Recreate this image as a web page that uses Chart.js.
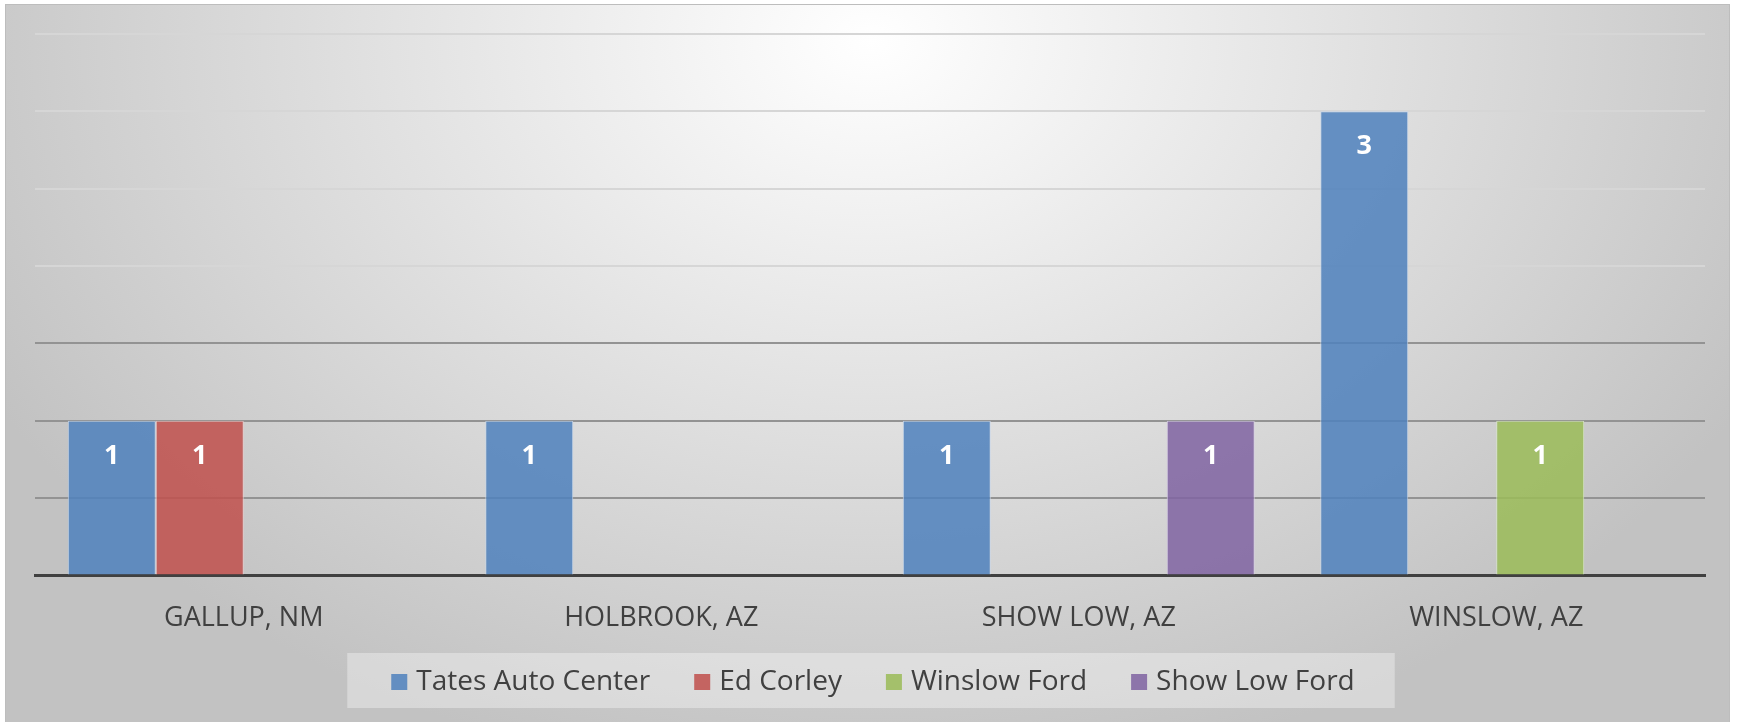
<!DOCTYPE html>
<html>
<head>
<meta charset="utf-8">
<script src="https://cdn.jsdelivr.net/npm/chart.js@4.4.1/dist/chart.umd.min.js"></script>
<style>
    html, body { margin: 0; padding: 0; background: #ffffff; }
    #wrap { width: 1739px; height: 722px; }
</style>
</head>
<body>
<div id="wrap"><canvas id="grafico"></canvas></div>
<script>
const ciudades = ['GALLUP, NM', 'HOLBROOK, AZ', 'SHOW LOW, AZ', 'WINSLOW, AZ'];
const tates = [1, 1, 1, 3];
const edCorley = [1, null, null, null];
const winslowFord = [null, null, null, 1];
const showLowFord = [null, null, 1, null];
const series = ['Tates Auto Center', 'Ed Corley', 'Winslow Ford', 'Show Low Ford'];

const FUENTE = '"Open Sans", Lato, sans-serif';

// fondo con degradado radial y marco
const fondo = {
    id: 'fondo',
    beforeDraw(chart) {
        const ctx = chart.ctx;
        ctx.save();
        ctx.fillStyle = '#ffffff';
        ctx.fillRect(0, 0, chart.width, chart.height);
        ctx.translate(870, 40);
        ctx.scale(1, 0.75);
        const g = ctx.createRadialGradient(0, 0, 0, 0, 0, 1000);
        g.addColorStop(0, '#ffffff');
        g.addColorStop(1, '#c2c2c2');
        ctx.fillStyle = g;
        ctx.fillRect(-865, -48, 1725, 1000);
        ctx.restore();
        ctx.save();
        ctx.strokeStyle = '#bdbdbd';
        ctx.lineWidth = 1;
        ctx.strokeRect(5.5, 4.5, 1724, 720);
        ctx.restore();
    }
};

// leyenda dibujada a mano (caja con fondo claro)
const leyenda = {
    id: 'leyenda',
    afterDraw(chart) {
        const ctx = chart.ctx;
        const caja = 16, hueco = 9, sep = 44, yc = 682;
        ctx.save();
        ctx.font = '28px ' + FUENTE;
        const anchos = chart.data.datasets.map(ds => ctx.measureText(ds.label).width);
        const total = anchos.reduce((a, w) => a + caja + hueco + w, 0) + sep * (anchos.length - 1);
        let x = 873 - total / 2;
        ctx.fillStyle = 'rgba(255,255,255,0.35)';
        ctx.fillRect(x - 44, 653, total + 84, 55);
        ctx.textBaseline = 'middle';
        chart.data.datasets.forEach((ds, i) => {
            ctx.fillStyle = ds.backgroundColor;
            ctx.fillRect(x, yc - caja / 2, caja, caja);
            ctx.fillStyle = '#404040';
            ctx.fillText(ds.label, x + caja + hueco, yc);
            x += caja + hueco + anchos[i] + sep;
        });
        ctx.restore();
    }
};

// etiquetas de valor dentro de las barras
const etiquetas = {
    id: 'etiquetas',
    afterDatasetsDraw(chart) {
        const ctx = chart.ctx;
        ctx.save();
        ctx.fillStyle = '#ffffff';
        ctx.font = 'bold 27px ' + FUENTE;
        ctx.textAlign = 'center';
        ctx.textBaseline = 'middle';
        chart.data.datasets.forEach((ds, i) => {
            const meta = chart.getDatasetMeta(i);
            meta.data.forEach((bar, j) => {
                const v = ds.data[j];
                if (v === null || v === undefined) return;
                ctx.fillText(String(v), bar.x, bar.y + 35);
            });
        });
        ctx.restore();
    }
};

function serie(label, data, color, borde) {
    return {
        label,
        data,
        backgroundColor: color,
        borderColor: borde,
        borderWidth: 1,
        borderSkipped: 'bottom',
        categoryPercentage: 0.843,
        barPercentage: 1
    };
}

new Chart(document.getElementById('grafico'), {
    type: 'bar',
    data: {
        labels: ciudades,
        datasets: [
            serie(series[0], tates, 'rgba(79,129,189,0.86)', 'rgba(200,215,235,0.9)'),
            serie(series[1], edCorley, 'rgba(192,80,77,0.86)', 'rgba(235,200,200,0.9)'),
            serie(series[2], winslowFord, 'rgba(155,187,89,0.86)', 'rgba(220,235,200,0.9)'),
            serie(series[3], showLowFord, 'rgba(128,100,162,0.86)', 'rgba(215,205,230,0.9)')
        ]
    },
    options: {
        responsive: true,
        maintainAspectRatio: false,
        animation: false,
        layout: { padding: { top: 34, left: 35, right: 34, bottom: 60 } },
        plugins: {
            legend: { display: false },
            tooltip: { enabled: false }
        },
        scales: {
            x: {
                grid: { display: false, drawTicks: false },
                border: { color: '#404040', width: 3 },
                ticks: { color: '#404040', font: { family: FUENTE, size: 27 }, padding: 27 }
            },
            y: {
                min: 0,
                max: 3.5,
                ticks: { display: false, stepSize: 0.5 },
                border: { display: false },
                grid: {
                    lineWidth: 2,
                    drawTicks: false,
                    color: (c) => {
                        const v = c.tick ? c.tick.value : 0;
                        if (v >= 2) return '#d6d6d6';
                        return '#939393';
                    }
                }
            }
        }
    },
    plugins: [fondo, etiquetas, leyenda]
});
</script>
</body>
</html>
